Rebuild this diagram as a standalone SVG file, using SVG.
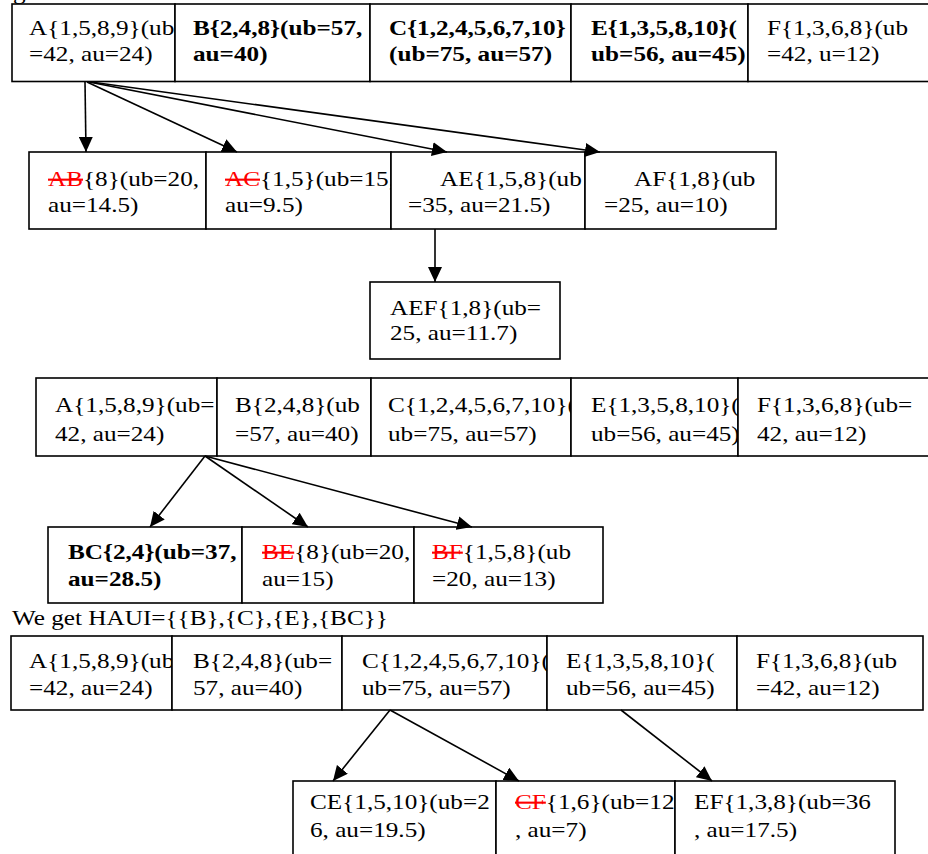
<svg xmlns="http://www.w3.org/2000/svg" width="928" height="854" viewBox="0 0 928 854">
<style>
.bx{fill:#fff;stroke:#000;stroke-width:1.6}
text{font-family:"Liberation Serif","Times New Roman",serif;font-size:21px;fill:#000}
.b{font-weight:bold}
.del{fill:#f00;text-decoration:line-through}
.cn line{stroke:#000;stroke-width:1.6;marker-end:url(#ah)}
</style>
<defs>
<marker id="ah" markerUnits="userSpaceOnUse" markerWidth="16" markerHeight="14" refX="15" refY="7" orient="auto">
<path d="M0,0 L15,7 L0,14 z" fill="#000"/>
</marker>
</defs>
<rect width="928" height="854" fill="#fff"/>
<text transform="translate(13,-1) scale(1.2,1)">g</text>

<!-- Row 1 -->
<g id="r1A"><rect class="bx" x="12" y="4" width="163" height="77.5"/>
<text transform="translate(29,35) scale(1.2,1)">A{1,5,8,9}(ub</text>
<text transform="translate(29,61) scale(1.2,1)">=42, au=24)</text></g>
<g id="r1B"><rect class="bx" x="175" y="4" width="195" height="77.5"/>
<text class="b" transform="translate(193,35) scale(1.2,1)">B{2,4,8}(ub=57,</text>
<text class="b" transform="translate(193,61) scale(1.2,1)">au=40)</text></g>
<g id="r1C"><rect class="bx" x="370" y="4" width="201" height="77.5"/>
<text class="b" transform="translate(389,35) scale(1.2,1)">C{1,2,4,5,6,7,10}</text>
<text class="b" transform="translate(389,61) scale(1.2,1)">(ub=75, au=57)</text></g>
<g id="r1E"><rect class="bx" x="571" y="4" width="177" height="77.5"/>
<text class="b" transform="translate(591,35) scale(1.2,1)">E{1,3,5,8,10}(</text>
<text class="b" transform="translate(591,61) scale(1.2,1)">ub=56, au=45)</text></g>
<g id="r1F"><rect class="bx" x="748" y="4" width="190" height="77.5"/>
<text transform="translate(767,35) scale(1.2,1)">F{1,3,6,8}(ub</text>
<text transform="translate(767,61) scale(1.2,1)">=42, u=12)</text></g>

<!-- Row 2 -->
<g id="AB"><rect class="bx" x="29" y="152" width="177" height="77"/>
<text transform="translate(48,186) scale(1.2,1)"><tspan class="del">AB</tspan>{8}(ub=20,</text>
<text transform="translate(48,212) scale(1.2,1)">au=14.5)</text></g>
<g id="AC"><rect class="bx" x="206" y="152" width="185" height="77"/>
<text transform="translate(225,186) scale(1.2,1)"><tspan class="del">AC</tspan>{1,5}(ub=15,</text>
<text transform="translate(225,212) scale(1.2,1)">au=9.5)</text></g>
<g id="AE"><rect class="bx" x="391" y="152" width="194" height="77"/>
<text transform="translate(440,186) scale(1.2,1)">AE{1,5,8}(ub</text>
<text transform="translate(408,212) scale(1.2,1)">=35, au=21.5)</text></g>
<g id="AF"><rect class="bx" x="585" y="152" width="191" height="77"/>
<text transform="translate(634,186) scale(1.2,1)">AF{1,8}(ub</text>
<text transform="translate(604,212) scale(1.2,1)">=25, au=10)</text></g>

<g id="AEF"><rect class="bx" x="370" y="282" width="190" height="77"/>
<text transform="translate(390,315) scale(1.2,1)">AEF{1,8}(ub=</text>
<text transform="translate(390,340) scale(1.2,1)">25, au=11.7)</text></g>

<!-- Row 3 -->
<g id="r3A"><rect class="bx" x="36" y="378" width="181" height="78"/>
<text transform="translate(55,412) scale(1.2,1)">A{1,5,8,9}(ub=</text>
<text transform="translate(55,441) scale(1.2,1)">42, au=24)</text></g>
<g id="r3B"><rect class="bx" x="217" y="378" width="154" height="78"/>
<text transform="translate(235,412) scale(1.2,1)">B{2,4,8}(ub</text>
<text transform="translate(235,441) scale(1.2,1)">=57, au=40)</text></g>
<g id="r3C"><rect class="bx" x="371" y="378" width="200" height="78"/>
<text transform="translate(388,412) scale(1.2,1)">C{1,2,4,5,6,7,10}(</text>
<text transform="translate(388,441) scale(1.2,1)">ub=75, au=57)</text></g>
<g id="r3E"><rect class="bx" x="571" y="378" width="167" height="78"/>
<text transform="translate(591,412) scale(1.2,1)">E{1,3,5,8,10}(</text>
<text transform="translate(591,441) scale(1.2,1)">ub=56, au=45)</text></g>
<g id="r3F"><rect class="bx" x="738" y="378" width="200" height="78"/>
<text transform="translate(757,412) scale(1.2,1)">F{1,3,6,8}(ub=</text>
<text transform="translate(757,441) scale(1.2,1)">42, au=12)</text></g>

<!-- Row 4 -->
<g id="BC"><rect class="bx" x="48" y="527" width="194" height="76"/>
<text class="b" transform="translate(68,559) scale(1.2,1)">BC{2,4}(ub=37,</text>
<text class="b" transform="translate(68,586) scale(1.2,1)">au=28.5)</text></g>
<g id="BE"><rect class="bx" x="242" y="527" width="172" height="76"/>
<text transform="translate(262,559) scale(1.2,1)"><tspan class="del">BE</tspan>{8}(ub=20,</text>
<text transform="translate(262,586) scale(1.2,1)">au=15)</text></g>
<g id="BF"><rect class="bx" x="414" y="527" width="189" height="76"/>
<text transform="translate(432,559) scale(1.2,1)"><tspan class="del">BF</tspan>{1,5,8}(ub</text>
<text transform="translate(432,586) scale(1.2,1)">=20, au=13)</text></g>

<text transform="translate(12,625) scale(1.2,1)">We get HAUI={{B},{C},{E},{BC}}</text>

<!-- Row 5 -->
<g id="r5A"><rect class="bx" x="11" y="636" width="161" height="74"/>
<text transform="translate(29,668) scale(1.2,1)">A{1,5,8,9}(ub</text>
<text transform="translate(29,695) scale(1.2,1)">=42, au=24)</text></g>
<g id="r5B"><rect class="bx" x="172" y="636" width="170" height="74"/>
<text transform="translate(193,668) scale(1.2,1)">B{2,4,8}(ub=</text>
<text transform="translate(193,695) scale(1.2,1)">57, au=40)</text></g>
<g id="r5C"><rect class="bx" x="342" y="636" width="205" height="74"/>
<text transform="translate(362,668) scale(1.2,1)">C{1,2,4,5,6,7,10}(</text>
<text transform="translate(362,695) scale(1.2,1)">ub=75, au=57)</text></g>
<g id="r5E"><rect class="bx" x="547" y="636" width="190" height="74"/>
<text transform="translate(566,668) scale(1.2,1)">E{1,3,5,8,10}(</text>
<text transform="translate(566,695) scale(1.2,1)">ub=56, au=45)</text></g>
<g id="r5F"><rect class="bx" x="737" y="636" width="186" height="74"/>
<text transform="translate(756,668) scale(1.2,1)">F{1,3,6,8}(ub</text>
<text transform="translate(756,695) scale(1.2,1)">=42, au=12)</text></g>

<!-- Row 6 -->
<g id="CE"><rect class="bx" x="293" y="781" width="203" height="90"/>
<text transform="translate(310,809) scale(1.2,1)">CE{1,5,10}(ub=2</text>
<text transform="translate(310,837) scale(1.2,1)">6, au=19.5)</text></g>
<g id="CF"><rect class="bx" x="496" y="781" width="179" height="90"/>
<text transform="translate(515,809) scale(1.2,1)"><tspan class="del">CF</tspan>{1,6}(ub=12</text>
<text transform="translate(515,837) scale(1.2,1)">, au=7)</text></g>
<g id="EF"><rect class="bx" x="675" y="781" width="220" height="90"/>
<text transform="translate(694,809) scale(1.2,1)">EF{1,3,8}(ub=36</text>
<text transform="translate(694,837) scale(1.2,1)">, au=17.5)</text></g>

<g id="connectors" class="cn">
<line x1="85" y1="82" x2="86" y2="152"/>
<line x1="87" y1="82" x2="237" y2="152"/>
<line x1="89" y1="82" x2="447" y2="152"/>
<line x1="91" y1="82" x2="600" y2="152"/>
<line x1="435" y1="229" x2="435" y2="282"/>
<line x1="205" y1="456" x2="150" y2="527"/>
<line x1="205" y1="456" x2="308" y2="527"/>
<line x1="205" y1="456" x2="472" y2="527"/>
<line x1="390" y1="710" x2="333" y2="781"/>
<line x1="390" y1="710" x2="519" y2="781"/>
<line x1="621" y1="710" x2="712" y2="781"/>
</g>
</svg>
